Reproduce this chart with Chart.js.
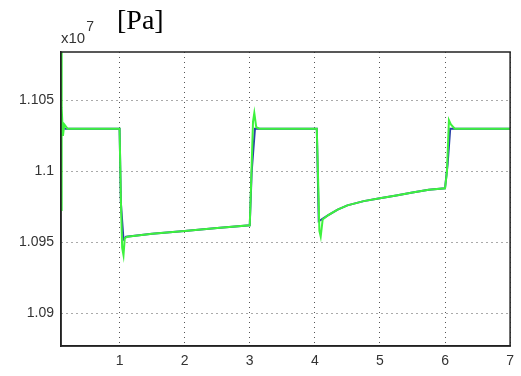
<!DOCTYPE html>
<html>
<head>
<meta charset="utf-8">
<script src="https://cdn.jsdelivr.net/npm/chart.js@4"></script>
<style>
  body { margin: 0; background: #fff; }
  #wrap { position: relative; width: 521px; height: 376px; }
  #unit { position: absolute; left: 61px; top: 24px; font-family: "Liberation Sans", Arial, sans-serif; font-size: 15px; color: #333; }
  #unit sup { font-size: 14px; position: relative; top: -6px; margin-left: 1px; }
  #pa { position: absolute; left: 117px; top: 4px; font-family: "Liberation Serif", "Times New Roman", serif; font-size: 28px; color: #000; }
</style>
</head>
<body>
<div id="wrap">
  <canvas id="pressure_chart" width="521" height="376"></canvas>
  <div id="unit">x10<sup>7</sup></div>
  <div id="pa">[Pa]</div>
</div>
<script>
// time [s] and pressure [x10^7 Pa]
var greenT = [0.1, 0.105, 0.115, 0.13, 0.15, 0.2, 1.0, 1.02, 1.04, 1.06, 1.08, 1.12, 1.5, 2.0, 2.5, 3.0, 3.02, 3.05, 3.07, 3.1, 3.15, 4.03, 4.05, 4.07, 4.09, 4.12, 4.2, 4.35, 4.5, 4.75, 5.0, 5.25, 5.5, 5.75, 6.0, 6.03, 6.06, 6.09, 6.15, 7.0];
var greenP = [1.1084, 1.0972, 1.1045, 1.1025, 1.1033, 1.103, 1.103, 1.098, 1.0946, 1.0941, 1.0953, 1.0954, 1.0956, 1.0958, 1.096, 1.0962, 1.099, 1.1035, 1.1041, 1.1031, 1.103, 1.103, 1.0995, 1.0958, 1.0954, 1.0966, 1.0969, 1.0973, 1.0976, 1.0979, 1.0981, 1.0983, 1.0985, 1.0987, 1.0988, 1.1, 1.1036, 1.1033, 1.103, 1.103];

var blueT = [0.15, 1.0, 1.02, 1.06, 1.1, 1.5, 2.0, 2.5, 3.0, 3.03, 3.08, 4.03, 4.06, 4.1, 4.2, 4.35, 4.5, 4.75, 5.0, 5.25, 5.5, 5.75, 6.0, 6.04, 6.08, 7.0];
var blueP = [1.103, 1.103, 1.0978, 1.0952, 1.0954, 1.0956, 1.0958, 1.096, 1.0962, 1.1, 1.103, 1.103, 1.0965, 1.0966, 1.0969, 1.0973, 1.0976, 1.0979, 1.0981, 1.0983, 1.0985, 1.0987, 1.0988, 1.1005, 1.103, 1.103];

var xTicks = [1, 2, 3, 4, 5, 6, 7];
var yTicks = [1.09, 1.095, 1.1, 1.105];

function toPoints(t, p) {
    var pts = [];
    for (let i = 0; i < t.length; i++) {
        pts.push({x: t[i], y: p[i]});
    }
    return pts;
}

// full box around the plot like matlab
var boxPlugin = {
    id: 'box',
    afterDraw: function(chart) {
        var a = chart.chartArea;
        var ctx = chart.ctx;
        ctx.save();
        ctx.strokeStyle = '#222';
        ctx.lineWidth = 1.5;
        ctx.strokeRect(a.left, a.top, a.right - a.left, a.bottom - a.top);
        ctx.restore();
    }
};

var ctx = document.getElementById('pressure_chart').getContext('2d');

// green goes first so it is drawn over the blue one
var chart = new Chart(ctx, {
    type: 'line',
    data: {
        datasets: [{
            label: 'green',
            data: toPoints(greenT, greenP),
            borderColor: '#3df23d',
            borderWidth: 2,
            pointRadius: 0,
            tension: 0
        }, {
            label: 'blue',
            data: toPoints(blueT, blueP),
            borderColor: '#2a3fa8',
            borderWidth: 2,
            pointRadius: 0,
            tension: 0
        }]
    },
    options: {
        responsive: false,
        animation: false,
        layout: { padding: { top: 52, right: 6, left: 0, bottom: 0 } },
        plugins: {
            legend: { display: false },
            tooltip: { enabled: false }
        },
        scales: {
            x: {
                type: 'linear',
                min: 0.1,
                max: 7,
                afterBuildTicks: function(scale) {
                    scale.ticks = xTicks.map(v => ({value: v}));
                },
                afterFit: function(scale) { scale.height = 30; },
                ticks: {
                    padding: 7,
                    color: '#333',
                    font: { family: 'Liberation Sans', size: 14 },
                    maxRotation: 0,
                    callback: v => String(v)
                },
                grid: {
                    drawTicks: false,
                    color: '#555',
                    lineWidth: 1
                },
                border: { display: true, color: '#222', width: 1.5, dash: [1, 4] }
            },
            y: {
                type: 'linear',
                min: 1.0877,
                max: 1.1084,
                afterBuildTicks: function(scale) {
                    scale.ticks = yTicks.map(v => ({value: v}));
                },
                afterFit: function(scale) { scale.width = 61; },
                ticks: {
                    padding: 7,
                    color: '#333',
                    font: { family: 'Liberation Sans', size: 14 },
                    callback: v => String(Math.round(v * 1000) / 1000)
                },
                grid: {
                    drawTicks: false,
                    color: '#555',
                    lineWidth: 1
                },
                border: { display: true, color: '#222', width: 1.5, dash: [1, 4] }
            }
        }
    },
    plugins: [boxPlugin]
});
</script>
</body>
</html>
